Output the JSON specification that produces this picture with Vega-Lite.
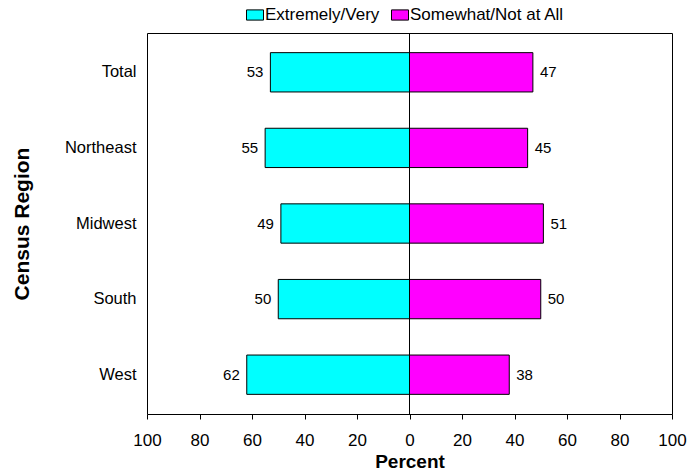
{
  "$schema": "https://vega.github.io/schema/vega-lite/v6.json",
  "autosize": "none",
  "width": 525,
  "height": 381,
  "padding": {"left": 147, "top": 33, "right": 18, "bottom": 60},
  "background": "white",
  "config": {
    "font": "Liberation Sans",
    "view": {"stroke": "black", "strokeWidth": 1},
    "axis": {"grid": false, "domain": false, "labelColor": "black", "titleColor": "black", "tickColor": "black", "labelFont": "Liberation Sans", "titleFont": "Liberation Sans"}
  },
  "data": {
    "values": [
      {"region": "Total", "group": "Extremely/Very", "value": -53, "label": 53},
      {"region": "Northeast", "group": "Extremely/Very", "value": -55, "label": 55},
      {"region": "Midwest", "group": "Extremely/Very", "value": -49, "label": 49},
      {"region": "South", "group": "Extremely/Very", "value": -50, "label": 50},
      {"region": "West", "group": "Extremely/Very", "value": -62, "label": 62},
      {"region": "Total", "group": "Somewhat/Not at All", "value": 47, "label": 47},
      {"region": "Northeast", "group": "Somewhat/Not at All", "value": 45, "label": 45},
      {"region": "Midwest", "group": "Somewhat/Not at All", "value": 51, "label": 51},
      {"region": "South", "group": "Somewhat/Not at All", "value": 50, "label": 50},
      {"region": "West", "group": "Somewhat/Not at All", "value": 38, "label": 38}
    ]
  },
  "encoding": {
    "y": {
      "field": "region", "type": "nominal",
      "sort": ["Total", "Northeast", "Midwest", "South", "West"],
      "scale": {"paddingInner": 0.48, "paddingOuter": 0.26},
      "axis": {"title": "Census Region", "ticks": false, "labelFontSize": 16.5, "labelPadding": 11, "titleFontSize": 21, "titleFontWeight": "bold", "titlePadding": 32}
    },
    "x": {
      "field": "value", "type": "quantitative",
      "scale": {"domain": [-100, 100], "nice": false},
      "axis": {"title": "Percent", "values": [-100, -80, -60, -40, -20, 0, 20, 40, 60, 80, 100], "labelExpr": "abs(datum.value)", "tickSize": 5, "labelFontSize": 17, "labelPadding": 13, "titleFontSize": 19, "titleFontWeight": "bold", "titlePadding": 4, "labelFlush": false}
    }
  },
  "layer": [
    {
      "mark": {"type": "bar", "stroke": "black", "strokeWidth": 1},
      "encoding": {
        "color": {
          "field": "group", "type": "nominal",
          "scale": {"domain": ["Extremely/Very", "Somewhat/Not at All"], "range": ["#00FFFF", "#FF00FF"]},
          "legend": {
            "title": null, "orient": "none", "direction": "horizontal",
            "legendX": 99, "legendY": -27,
            "symbolType": "M-1,-0.6H1V0.6H-1Z", "symbolSize": 289, "symbolStrokeColor": "black", "symbolStrokeWidth": 1, "symbolOpacity": 1,
            "labelFontSize": 17, "labelColor": "black", "labelOffset": 1, "columnPadding": 9
          }
        }
      }
    },
    {
      "transform": [{"filter": "datum.value < 0"}],
      "mark": {"type": "text", "align": "right", "dx": -7, "fontSize": 15, "color": "black"},
      "encoding": {"text": {"field": "label"}}
    },
    {
      "transform": [{"filter": "datum.value > 0"}],
      "mark": {"type": "text", "align": "left", "dx": 7, "fontSize": 15, "color": "black"},
      "encoding": {"text": {"field": "label"}}
    },
    {
      "data": {"values": [{"zero": 0}]},
      "mark": {"type": "rule", "color": "black", "strokeWidth": 1},
      "encoding": {"x": {"field": "zero", "type": "quantitative"}, "y": null}
    }
  ]
}
